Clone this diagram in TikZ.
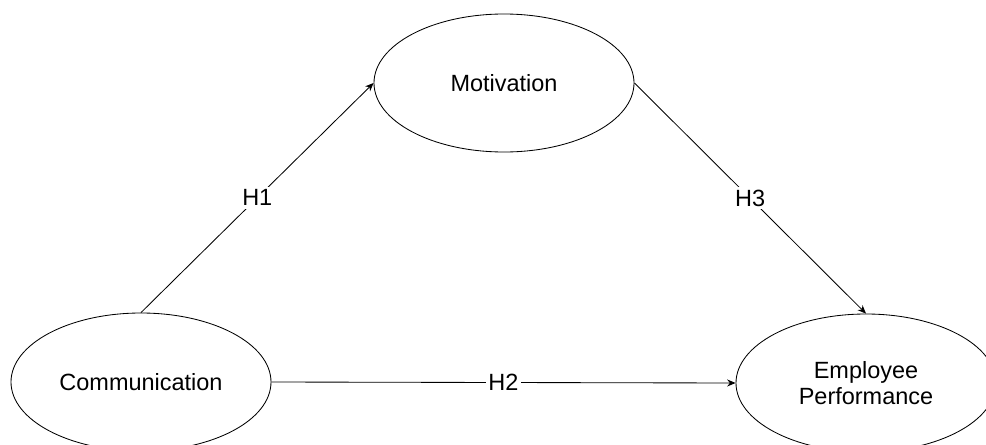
\documentclass[tikz,border=0pt]{standalone}
\usepackage{fontspec}
\setmainfont{Liberation Sans}
\usetikzlibrary{arrows.meta,shapes.geometric}
\tikzset{
	construct/.style={draw, ellipse, line width=0.6pt, minimum width=6.5cm, minimum height=3.45cm, align=center, font=\fontsize{16.7}{18.5}\selectfont},
	path/.style={line width=0.6pt, -{Stealth[length=6pt,width=5pt]}},
	hyp/.style={fill=white, inner sep=2pt, font=\fontsize{16.7}{19}\selectfont}
}

\begin{document}
\begin{tikzpicture}
		%%%%% START %%%%%
		\clip (0, 0) rectangle (24.65, 11.1);
		
		\node[construct] (mot) at (12.6, 9.025) {Motivation};
		\node[construct] (com) at (3.525, 1.55) {Communication};
		\node[construct] (emp) at (21.65, 1.525) {Employee\\Performance};
		
		\draw[path] (com.north) -- node[hyp] {H1} (mot.west);
		\draw[path] (com.east) -- node[hyp] {H2} (emp.west);
		\draw[path] (mot.east) -- node[hyp] {H3} (emp.north);
		%%%%% END %%%%%
	\end{tikzpicture}
\end{document}
